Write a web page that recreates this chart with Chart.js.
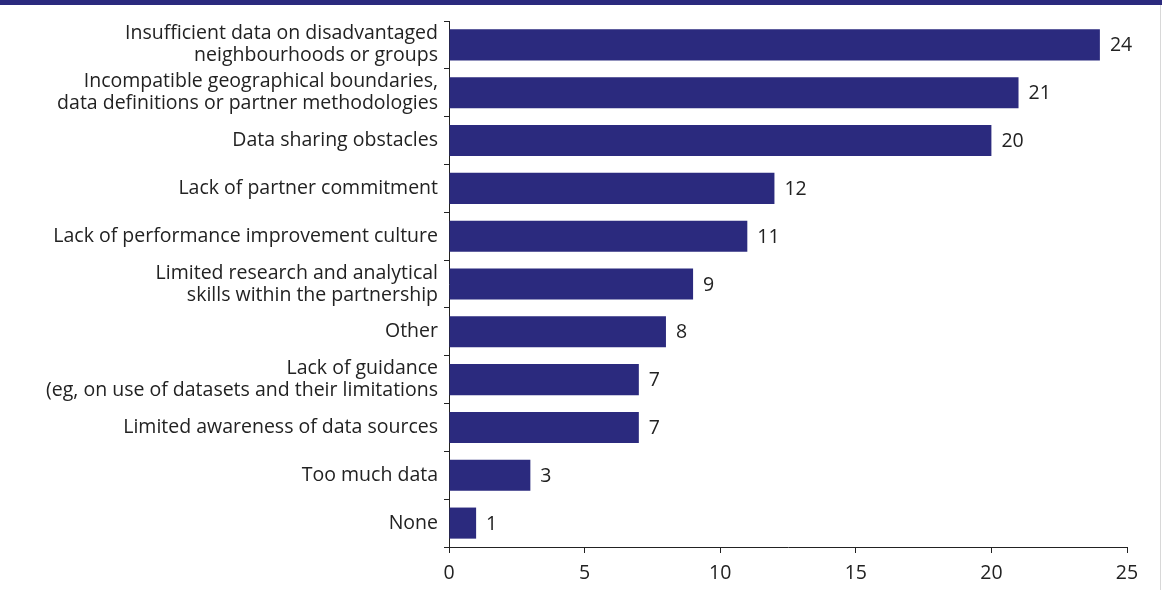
<!DOCTYPE html>
<html>
<head>
<meta charset="utf-8">
<script src="https://cdn.jsdelivr.net/npm/chart.js@4"></script>
<style>
  html, body { margin: 0; padding: 0; background: #fff; }
  #wrap { position: relative; width: 1162px; height: 590px; }
  #band { position: absolute; left: 0; top: 0; width: 1162px; height: 5px; background: #2b2a7e; }
  #edge { position: absolute; right: 1px; top: 5px; width: 1px; height: 585px; background: #d8d8d8; }
</style>
</head>
<body>
<div id="wrap">
  <canvas id="chart" width="1162" height="590"></canvas>
  <div id="band"></div>
  <div id="edge"></div>
</div>
<script>
var categories = [
  ['Insufficient data on disadvantaged', 'neighbourhoods or groups'],
  ['Incompatible geographical boundaries,', 'data definitions or partner methodologies'],
  'Data sharing obstacles',
  'Lack of partner commitment',
  'Lack of performance improvement culture',
  ['Limited research and analytical', 'skills within the partnership'],
  'Other',
  ['Lack of guidance', '(eg, on use of datasets and their limitations'],
  'Limited awareness of data sources',
  'Too much data',
  'None'
];
var counts = [24, 21, 20, 12, 11, 9, 8, 7, 7, 3, 1];
var xTicks = [0, 5, 10, 15, 20, 25];

var textColor = '#222222';
var barColor = '#2b2a7e';
var fontFamily = '"Open Sans", "Noto Sans", sans-serif';

// write the count just past the end of each bar
var valueLabels = {
  id: 'valueLabels',
  afterDatasetsDraw: function (chart) {
    var ctx = chart.ctx;
    var meta = chart.getDatasetMeta(0);
    ctx.save();
    ctx.fillStyle = textColor;
    ctx.font = '19.5px ' + fontFamily;
    ctx.textAlign = 'left';
    ctx.textBaseline = 'middle';
    meta.data.forEach(function (bar, i) {
      ctx.fillText(String(counts[i]), bar.x + 10, bar.y + 1);
    });
    ctx.restore();
  }
};

new Chart(document.getElementById('chart').getContext('2d'), {
  type: 'bar',
  data: {
    labels: categories,
    datasets: [{
      data: counts,
      backgroundColor: barColor,
      barPercentage: 0.65,
      categoryPercentage: 1
    }]
  },
  options: {
    indexAxis: 'y',
    responsive: false,
    animation: false,
    layout: { padding: { top: 21, right: 35, left: 0, bottom: 0 } },
    plugins: {
      legend: { display: false },
      tooltip: { enabled: false }
    },
    scales: {
      x: {
        min: 0,
        max: 25,
        afterBuildTicks: function (scale) {
          scale.ticks = xTicks.map(function (v) { return { value: v }; });
        },
        afterFit: function (scale) { scale.height = 43; },
        grid: { drawOnChartArea: false, drawTicks: true, tickLength: 6, color: textColor },
        border: { display: true, color: textColor, width: 1 },
        ticks: { color: textColor, font: { family: fontFamily, size: 19.5 }, padding: 9, maxRotation: 0 }
      },
      y: {
        afterFit: function (scale) { scale.width = 449; },
        grid: { drawOnChartArea: false, drawTicks: true, tickLength: 5, color: textColor, offset: true },
        border: { display: true, color: textColor, width: 1 },
        ticks: { color: textColor, autoSkip: false, font: { family: fontFamily, size: 19.5, lineHeight: 1.13 }, padding: 6 }
      }
    }
  },
  plugins: [valueLabels]
});
</script>
</body>
</html>
